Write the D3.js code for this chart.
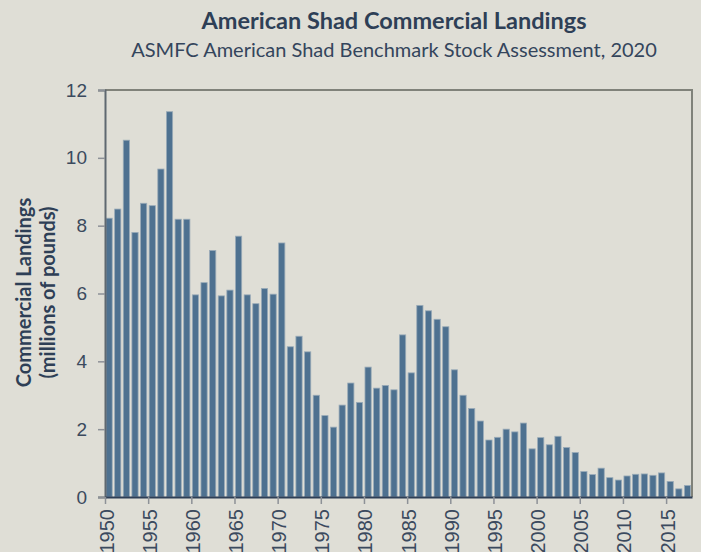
<!DOCTYPE html>
<html>
<head>
<meta charset="utf-8">
<script src="https://cdn.jsdelivr.net/npm/d3@7"></script>
<style>
  html, body { margin: 0; padding: 0; background: #dfded6; }
  svg { display: block; font-family: "Source Sans Pro", Lato, sans-serif; }
</style>
</head>
<body>
<div id="chart"></div>
<script>
const years = d3.range(1950, 2018);
const landings = [
	8.22, 8.49, 10.52, 7.80, 8.66, 8.59, 9.67, 11.36, 8.19, 8.19,
	5.96, 6.32, 7.27, 5.93, 6.10, 7.69, 5.96, 5.70, 6.15, 5.98,
	7.49, 4.43, 4.74, 4.28, 3.00, 2.40, 2.06, 2.71, 3.36, 2.79,
	3.83, 3.21, 3.29, 3.16, 4.78, 3.66, 5.65, 5.49, 5.24, 5.02,
	3.75, 3.00, 2.61, 2.24, 1.68, 1.76, 2.00, 1.92, 2.18, 1.42,
	1.75, 1.54, 1.79, 1.46, 1.31, 0.75, 0.66, 0.85, 0.57, 0.50,
	0.62, 0.67, 0.68, 0.64, 0.71, 0.46, 0.24, 0.34
];
const yTicks = [0, 2, 4, 6, 8, 10, 12];
const xTicks = d3.range(1950, 2020, 5);

const width = 701;
const height = 552;
const margin = {top: 90, right: 9, bottom: 55, left: 105};

const svg = d3.select("#chart")
	.append("svg")
	.attr("width", width)
	.attr("height", height);

const x = d3.scaleLinear()
	.domain([1950, 2018])
	.range([margin.left, width - margin.right]);

const y = d3.scaleLinear()
	.domain([0, 12])
	.range([height - margin.bottom, margin.top]);

const step = x(1951) - x(1950);

// frame on top and right
svg.append("path")
	.attr("d", `M${x(1950)},${y(12)}H${x(2018)}V${y(0)}`)
	.attr("fill", "none")
	.attr("stroke", "#80827a")
	.attr("stroke-width", 2);

// bars
svg.append("g")
	.selectAll("rect")
	.data(years)
	.enter()
	.append("rect")
	.attr("x", (d) => x(d) + 1)
	.attr("y", (d, i) => y(landings[i]))
	.attr("width", step * 0.72)
	.attr("height", (d, i) => y(0) - y(landings[i]))
	.attr("fill", "#4e7190")
	.attr("stroke", "#9aabb8")
	.attr("stroke-width", 0.8);

// y axis
const yAxis = svg.append("g")
	.attr("transform", `translate(${x(1950)},0)`)
	.call(d3.axisLeft(y).tickValues(yTicks).tickSize(7).tickPadding(11));
yAxis.select(".domain").attr("stroke", "#5f6870").attr("stroke-width", 2);
yAxis.selectAll(".tick line").attr("stroke", "#8d9197").attr("stroke-width", 1.5);
yAxis.selectAll(".tick text")
	.attr("fill", "#3b4a5e")
	.style("font-size", "19px")
	.style("font-weight", 300);

// x axis
const xAxis = svg.append("g")
	.attr("transform", `translate(0,${y(0)})`)
	.call(d3.axisBottom(x).tickValues(xTicks).tickFormat(d3.format("d")).tickSize(7).tickSizeOuter(0));
xAxis.select(".domain").attr("stroke", "#2e3f56").attr("stroke-width", 2);
xAxis.selectAll(".tick line").attr("stroke", "#8d9197").attr("stroke-width", 1.5);
xAxis.selectAll(".tick text")
	.attr("fill", "#3b4a5e")
	.style("font-size", "20px")
	.style("font-weight", 300)
	.attr("text-anchor", "end")
	.attr("transform", "rotate(-90)")
	.attr("x", -12)
	.attr("y", 0)
	.attr("dy", "0.4em");

// titles
svg.append("text")
	.attr("x", 394)
	.attr("y", 29)
	.attr("text-anchor", "middle")
	.attr("fill", "#2e3f56")
	.style("font-size", "23.5px")
	.style("font-weight", 700)
	.text("American Shad Commercial Landings");

svg.append("text")
	.attr("x", 394)
	.attr("y", 57)
	.attr("text-anchor", "middle")
	.attr("fill", "#34455c")
	.style("font-size", "20px")
	.style("font-weight", 400)
	.text("ASMFC American Shad Benchmark Stock Assessment, 2020");

// y axis label
const yLabel = svg.append("text")
	.attr("transform", `translate(31,${(y(0) + y(12)) / 2 - 1}) rotate(-90)`)
	.attr("text-anchor", "middle")
	.attr("fill", "#2e3f56")
	.style("font-size", "20px")
	.style("font-weight", 700);
yLabel.append("tspan").attr("x", 0).attr("dy", 0).text("Commercial Landings");
yLabel.append("tspan").attr("x", 0).attr("dy", 24).text("(millions of pounds)");
</script>
</body>
</html>
